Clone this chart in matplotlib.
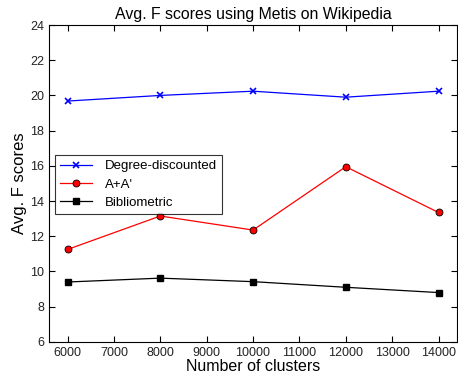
import matplotlib
matplotlib.use("Agg")
import matplotlib.pyplot as plt

plt.rcParams["font.family"] = ["Liberation Sans", "DejaVu Sans"]

clusters = [6000, 8000, 10000, 12000, 14000]
degree_discounted = [19.68, 20.0, 20.24, 19.9, 20.24]
a_plus_a = [11.25, 13.15, 12.35, 15.95, 13.35]
bibliometric = [9.4, 9.62, 9.42, 9.1, 8.8]

fig = plt.figure(figsize=(4.58, 3.79), dpi=100)
ax = fig.add_axes([0.107, 0.098, 0.891, 0.836])

ax.plot(clusters, degree_discounted, color="blue", marker="x", markersize=5,
        markeredgewidth=1.2, linewidth=0.9, label="Degree-discounted")
ax.plot(clusters, a_plus_a, color="red", marker="o", markersize=5,
        markerfacecolor="red", markeredgecolor="black", markeredgewidth=0.6,
        linewidth=0.9, label="A+A'")
ax.plot(clusters, bibliometric, color="black", marker="s", markersize=5,
        linewidth=0.9, label="Bibliometric")

ax.set_xlim(5600, 14400)
ax.set_ylim(6, 24)
ax.set_xticks(range(6000, 14001, 1000))
ax.set_yticks(range(6, 25, 2))
ax.tick_params(direction="in", top=True, right=True, labelsize=9, length=4,
               labelcolor="#222222")
for s in ax.spines.values():
    s.set_linewidth(0.8)

ax.set_title("Avg. F scores using Metis on Wikipedia", fontsize=11.4, pad=4)
ax.set_xlabel("Number of clusters", fontsize=11.5, labelpad=0)
ax.set_ylabel("Avg. F scores", fontsize=12, labelpad=2)

leg = ax.legend(loc="upper left", bbox_to_anchor=(0.014, 0.59), fontsize=9.5,
                frameon=True, fancybox=False, edgecolor="black",
                borderpad=0.4, labelspacing=0.45, handlelength=2.4,
                handletextpad=1.0, borderaxespad=0)
leg.get_frame().set_linewidth(0.8)

fig.savefig("out.png", dpi=100)
